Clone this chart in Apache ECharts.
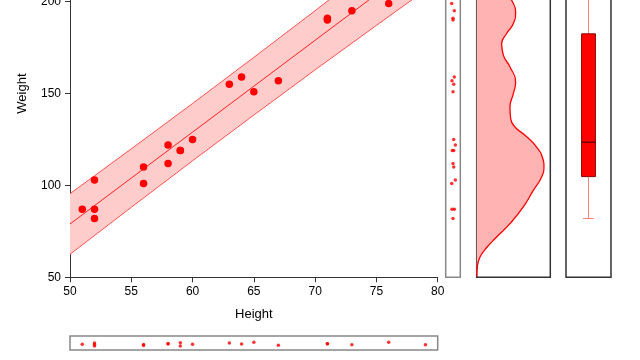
<!DOCTYPE html>
<html><head><meta charset="utf-8">
<script src="https://cdn.jsdelivr.net/npm/echarts@6/dist/echarts.min.js"></script>
<style>html,body{margin:0;padding:0;background:#fff}#c{width:640px;height:360px}</style>
</head><body><div id="c"></div>
<script>
// ---- data ----
const heights = [51,52,52,52,56,56,58,58,59,59,60,63,64,65,67,71,71,73,76,79];
const weights = [87,103,87,82,110,101,122,112,119,119,125,155,159,151,157,191,190,195,199,215];
// jitter of the marginal strip charts (axis units, -1..1)
const bottomJitter = [-0.19,0,-0.21,-0.43,-0.21,-0.36,-0.1,-0.1,0.04,-0.43,-0.19,0,-0.14,0.1,-0.33,-0.1,-0.1,-0.24,0.1,-0.24];
const rightJitter = [-0.14,0.32,0.18,0,0.1,-0.18,0.32,0,-0.1,0.1,0.1,0.1,0.18,0,-0.14,0,0,0.18,-0.18,0];
// fitted line and prediction band
const fitX = [50,55,60,65,70,75,80];
const fitY = [79,104,129,154,179,204,229];
const fitUpper = [95.5,119.9,144.6,169.7,195.1,220.9,246.9];
const fitLower = [62.5,88.1,113.4,138.3,162.9,187.1,211.1];
// density of weight (relative width of the panel)
const densW = [50.4,55.8,61.0,66.2,71.9,79.2,88.3,97.3,104.6,111,113.7,120.9,127.3,131.8,136.4,142.7,150,156.3,164.5,170.9,177.2,182.7,188.1,194.5,200.8,206];
const densV = [0,0.009,0.045,0.136,0.271,0.452,0.633,0.769,0.882,0.914,0.905,0.814,0.656,0.52,0.461,0.452,0.498,0.529,0.452,0.362,0.339,0.407,0.498,0.529,0.475,0.40];
// box plot: min, Q1, median, Q3, max
const boxStats = [82,104.8,123.5,182.5,230];
const xTicks = {min:50, max:80, step:5};
const yTicks = {min:50, max:250, step:50};

const FONT = "'Liberation Sans', Arial, sans-serif";
const chart = echarts.init(document.getElementById('c'), null, {renderer:'canvas'});

const G_TOP = -90.2, G_H = 367.5;
const grids = [
  {left:70, top:G_TOP, width:367.7, height:G_H},
  {left:445.7, top:G_TOP, width:14.6, height:G_H, show:true, borderColor:'#888', borderWidth:1.5, backgroundColor:'transparent'},
  {left:476.7, top:G_TOP, width:73.6, height:G_H, show:true, borderColor:'#333', borderWidth:1.5, backgroundColor:'transparent'},
  {left:566, top:G_TOP, width:45, height:G_H, show:true, borderColor:'#333', borderWidth:1.5, backgroundColor:'transparent'},
  {left:70, top:336, width:367.7, height:14, show:true, borderColor:'#888', borderWidth:1.5, backgroundColor:'transparent'}
].map(g => Object.assign({containLabel:false, outerBoundsMode:'none'}, g));

const hidden = (gi, min, max) => ({type:'value', gridIndex:gi, min, max, show:false, splitLine:{show:false}});

function renderBand(params, api) {
  const up = fitX.map((x,i)=>api.coord([x, fitUpper[i]]));
  const lo = fitX.map((x,i)=>api.coord([x, fitLower[i]]));
  const poly = up.concat(lo.slice().reverse());
  return {type:'group', children:[
    {type:'polygon', shape:{points:poly}, style:{fill:'#ffcccc', stroke:null}},
    {type:'polyline', shape:{points:up}, style:{stroke:'#ff5050', lineWidth:1, fill:null}},
    {type:'polyline', shape:{points:lo}, style:{stroke:'#ff5050', lineWidth:1, fill:null}}
  ]};
}
function renderDensity(params, api) {
  const pts = densW.map((w,i)=>api.coord([densV[i], w]));
  pts.push(api.coord([0, densW[densW.length-1]]));
  pts.unshift(api.coord([0, densW[0]]));
  return {type:'polygon', shape:{points:pts}, style:{fill:'#ffb3b3', stroke:null}};
}
function renderBox(params, api) {
  const cx = api.coord([0.5, boxStats[2]])[0];
  const y = boxStats.map(v => api.coord([0.5, v])[1]);
  const hw = 6.9, cap = 5.5;
  return {type:'group', children:[
    {type:'line', shape:{x1:cx, y1:y[0], x2:cx, y2:y[1]}, style:{stroke:'#ff8080', lineWidth:1}},
    {type:'line', shape:{x1:cx, y1:y[3], x2:cx, y2:y[4]}, style:{stroke:'#ff8080', lineWidth:1}},
    {type:'line', shape:{x1:cx-cap, y1:y[0], x2:cx+cap, y2:y[0]}, style:{stroke:'#ff8080', lineWidth:1}},
    {type:'rect', shape:{x:cx-hw, y:y[3], width:2*hw, height:y[1]-y[3]}, style:{fill:'#ff0000', stroke:'#8b0000', lineWidth:1}},
    {type:'line', shape:{x1:cx-hw, y1:y[2], x2:cx+hw, y2:y[2]}, style:{stroke:'#6e0000', lineWidth:1.5}}
  ]};
}

const option = {
  animation:false,
  backgroundColor:'#ffffff',
  grid: grids,
  xAxis: [
    {type:'value', gridIndex:0, min:xTicks.min, max:xTicks.max, interval:xTicks.step,
     name:'Height', nameLocation:'middle', nameGap:31,
     nameTextStyle:{fontSize:13, color:'#000', fontFamily:FONT},
     axisLine:{show:true, onZero:false, lineStyle:{color:'#333', width:1}},
     axisTick:{show:true, length:5, lineStyle:{color:'#333'}},
     axisLabel:{fontSize:12, color:'#000', fontFamily:FONT, margin:8},
     splitLine:{show:false}},
    hidden(1, -1, 1),
    hidden(2, 0, 1),
    hidden(3, 0, 1),
    hidden(4, xTicks.min, xTicks.max)
  ],
  yAxis: [
    {type:'value', gridIndex:0, min:yTicks.min, max:yTicks.max, interval:yTicks.step,
     name:'Weight', nameLocation:'middle', nameGap:41, nameRotate:90,
     nameTextStyle:{fontSize:13, color:'#000', fontFamily:FONT},
     axisLine:{show:true, onZero:false, lineStyle:{color:'#333', width:1}},
     axisTick:{show:true, length:5, lineStyle:{color:'#333'}},
     axisLabel:{fontSize:12, color:'#000', fontFamily:FONT, margin:9, showMaxLabel:false},
     splitLine:{show:false}},
    hidden(1, yTicks.min, yTicks.max),
    hidden(2, yTicks.min, yTicks.max),
    hidden(3, yTicks.min, yTicks.max),
    hidden(4, -1, 1)
  ],
  series: [
    {type:'custom', xAxisIndex:0, yAxisIndex:0, clip:true, z:1, silent:true,
     renderItem:renderBand, data:[[fitX[0], fitY[0]]]},
    {type:'line', xAxisIndex:0, yAxisIndex:0, z:2, showSymbol:false, symbol:'none', silent:true,
     lineStyle:{color:'#ff2020', width:1}, data: fitX.map((x,i)=>[x, fitY[i]])},
    {type:'scatter', xAxisIndex:0, yAxisIndex:0, z:3, symbolSize:7.5,
     itemStyle:{color:'#ff0000', opacity:1}, data: heights.map((h,i)=>[h, weights[i]])},
    {type:'scatter', xAxisIndex:1, yAxisIndex:1, z:3, symbolSize:3.5,
     itemStyle:{color:'#ff0000'}, data: weights.map((w,i)=>[rightJitter[i], w])},
    {type:'custom', xAxisIndex:2, yAxisIndex:2, clip:true, z:1, silent:true,
     renderItem:renderDensity, data:[[0, densW[0]]]},
    {type:'line', xAxisIndex:2, yAxisIndex:2, z:2, smooth:0.5, showSymbol:false, symbol:'none', silent:true,
     clip:true, lineStyle:{color:'#ff0000', width:1.3}, data: densW.map((w,i)=>[densV[i], w])},
    {type:'custom', xAxisIndex:3, yAxisIndex:3, clip:true, z:2, silent:true,
     renderItem:renderBox, data:[[0.5, boxStats[2]]]},
    {type:'scatter', xAxisIndex:4, yAxisIndex:4, z:3, symbolSize:3.5,
     itemStyle:{color:'#ff0000'}, data: heights.map((h,i)=>[h, bottomJitter[i]])}
  ]
};
chart.setOption(option);
</script>
</body></html>
